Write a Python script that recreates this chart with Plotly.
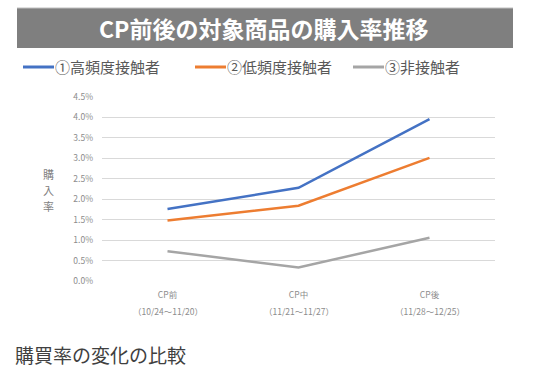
import plotly.graph_objects as go

categories = ["CP前", "CP中", "CP後"]
periods = ["（10/24～11/20）", "（11/21～11/27）", "（11/28～12/25）"]
series_names = ["①高頻度接触者", "②低頻度接触者", "③非接触者"]
blue_vals = [0.0176, 0.0228, 0.0396]
orange_vals = [0.0148, 0.0184, 0.0301]
gray_vals = [0.0073, 0.0033, 0.0106]
colors = ["#4472C4", "#ED7D31", "#A5A5A5"]
y_ticks = [0, 0.005, 0.01, 0.015, 0.02, 0.025, 0.03, 0.035, 0.04, 0.045]

W, H = 549, 377
L, R, T, B = 102, 54, 97, 96
pw, ph = W - L - R, H - T - B

def px(x):
    return (x - L) / pw

def py(y):
    return (H - B - y) / ph

font = "Noto Sans CJK JP"
tick_color = "#8C8C8C"
fig = go.Figure()
for name, vals, c in zip(series_names, [blue_vals, orange_vals, gray_vals], colors):
    fig.add_trace(go.Scatter(x=categories, y=vals, mode="lines", name=name,
                             line=dict(color=c, width=2.5), showlegend=False))

shapes = [
    dict(type="rect", xref="paper", yref="paper", x0=px(17), x1=px(513), y0=py(48), y1=py(8),
         fillcolor="#7F7F7F", line=dict(width=0), layer="below"),
    dict(type="line", xref="paper", yref="paper", x0=px(17), x1=px(513), y0=py(8), y1=py(8),
         line=dict(color="#BFBFBF", width=1)),
]
annotations = [
    dict(text="<b>CP前後の対象商品の購入率推移</b>", xref="paper", yref="paper", x=px(263), y=py(28),
         showarrow=False, font=dict(size=23, color="white", family=font), xanchor="center", yanchor="middle"),
    dict(text="購買率の変化の比較", xref="paper", yref="paper", x=px(13), y=py(354),
         showarrow=False, font=dict(size=19, color="#404040", family=font), xanchor="left", yanchor="middle"),
]
for i, ch in enumerate("購入率"):
    annotations.append(dict(text=ch, xref="paper", yref="paper", x=px(48), y=py(174 + i * 16),
                            showarrow=False, font=dict(size=11, color="#7f7f7f", family=font),
                            xanchor="center", yanchor="middle"))
for cat, per in zip(categories, periods):
    annotations.append(dict(text=per, xref="x", yref="paper", x=cat, y=py(311),
                            showarrow=False, font=dict(size=8.5, color=tick_color, family=font),
                            xanchor="center", yanchor="middle"))

# manual legend
leg_x = [23, 195, 353]
for name, c, lx in zip(series_names, colors, leg_x):
    shapes.append(dict(type="line", xref="paper", yref="paper", x0=px(lx), x1=px(lx + 31),
                       y0=py(67), y1=py(67), line=dict(color=c, width=3)))
    annotations.append(dict(text=name, xref="paper", yref="paper", x=px(lx + 30), y=py(66),
                            showarrow=False, font=dict(size=15, color="#595959", family=font),
                            xanchor="left", yanchor="middle"))

fig.update_layout(
    width=W, height=H, margin=dict(l=L, r=R, t=T, b=B, autoexpand=False),
    paper_bgcolor="white", plot_bgcolor="white",
    font=dict(family=font, color="#595959"),
    showlegend=False,
    xaxis=dict(showgrid=False, showline=False, ticks="", tickfont=dict(size=8.5, color=tick_color),
               range=[-0.5, 2.5], automargin=False, fixedrange=True, ticklabelstandoff=7),
    yaxis=dict(range=[0, 0.045], tickvals=y_ticks, tickformat=".1%", showgrid=True,
               gridcolor="#D9D9D9", gridwidth=1, zeroline=False, showline=False, automargin=False,
               tickfont=dict(size=8.5, color=tick_color), ticklabelstandoff=8),
    shapes=shapes,
    annotations=annotations,
)
fig.write_html("out.html", config={"displayModeBar": False},
               post_script="document.body.style.margin='0';")
